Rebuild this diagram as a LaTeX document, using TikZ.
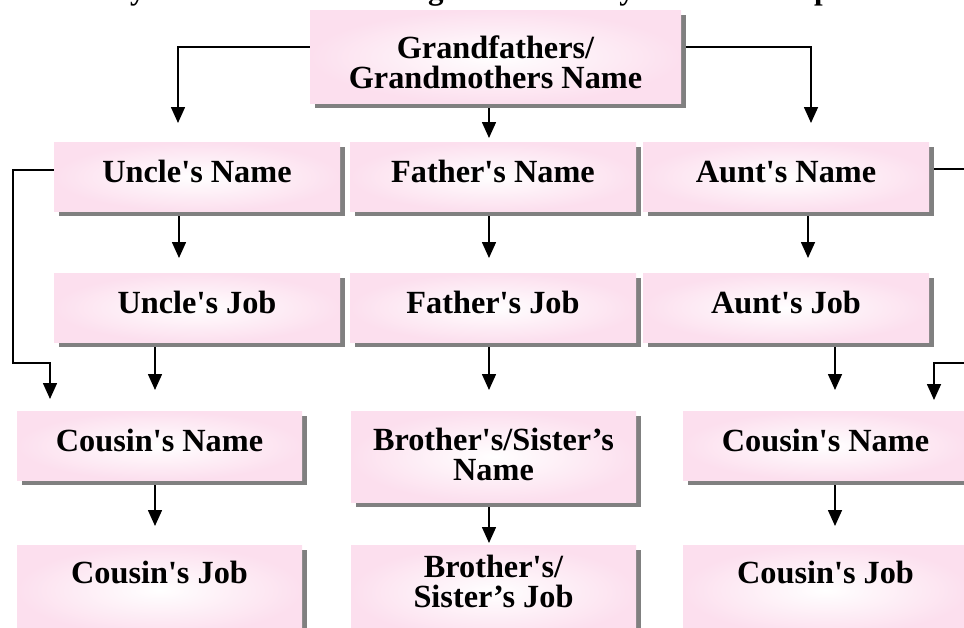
\documentclass[tikz,border=0pt]{standalone}
\usepackage{fontspec}
\setmainfont{Liberation Serif}[Ligatures=TeXOff]
\usetikzlibrary{arrows.meta,shadows,backgrounds}
\definecolor{pinkbox}{RGB}{252,223,238}
\definecolor{shadowgray}{RGB}{128,128,128}
\begin{document}
\begin{tikzpicture}[x=1pt,y=-1pt,
  boxbase/.style={rectangle, anchor=north, inner xsep=0pt, inner ysep=0pt,
    minimum width=286pt, inner color=white, outer color=pinkbox,
    drop shadow={shadow xshift=5pt, shadow yshift=-5pt, fill=shadowgray, opacity=1},
    font=\bfseries\fontsize{32.3}{30}\selectfont},
  box1/.style={boxbase, text height=40pt, text depth=29pt},
  box2/.style={boxbase, align=center},
  arr/.style={line width=1.6pt, -{Triangle[width=14pt,length=16pt]}}
]
\useasboundingbox (0,0) rectangle (964,627);

\node[anchor=base west, inner sep=0pt, font=\bfseries\fontsize{31}{31}\selectfont] (instr) at (6,-1)
  {Listen to your teacher describing his/her family tree and complete the web.};

\node[box2, minimum width=371pt] (gp) at (495.5,10)
  {\rule{0pt}{48pt}Grandfathers/\\Grandmothers Name\rule[-15pt]{0pt}{15pt}};

\node[box1] (un) at (197,142) {Uncle's Name};
\node[box1] (fn) at (493,142) {Father's Name};
\node[box1] (an) at (786,142) {Aunt's Name};

\node[box1] (uj) at (197,273) {Uncle's Job};
\node[box1] (fj) at (493,273) {Father's Job};
\node[box1] (aj) at (786,273) {Aunt's Job};

\node[box1, minimum width=285pt] (cn1) at (159.5,411) {Cousin's Name};
\node[box2, minimum width=285pt] (bn) at (493.5,411)
  {\rule{0pt}{39pt}Brother's/Sister’s\\Name\rule[-22pt]{0pt}{22pt}};
\node[box1, minimum width=285pt] (cn2) at (825.5,411) {Cousin's Name};

\node[boxbase, minimum width=285pt, text height=38pt, text depth=52pt] (cj1) at (159.5,545) {Cousin's Job};
\node[box2, minimum width=285pt] (bj) at (493.5,545)
  {\rule{0pt}{32pt}Brother's/\\Sister’s Job\rule[-32pt]{0pt}{32pt}};
\node[boxbase, minimum width=285pt, text height=38pt, text depth=52pt] (cj2) at (825.5,545) {Cousin's Job};

\coordinate (k1) at (178,47);
\coordinate (k2) at (811,47);
\coordinate (xm) at (489,0);
\coordinate (xu) at (179,0);
\coordinate (xa) at (808,0);
\coordinate (xl) at (155,0);
\coordinate (xr) at (835,0);
\coordinate (l1) at (13,170);
\coordinate (l2) at (13,363);
\coordinate (l3) at (50,363);
\coordinate (r1) at (975,169);
\coordinate (r2) at (975,363);
\coordinate (r3) at (934,363);

\begin{scope}[on background layer]
\draw[arr, shorten >=19pt] (gp.west |- k1) -- (k1) -- (un.north -| k1);
\draw[arr, shorten >=19pt] (gp.east |- k2) -- (k2) -- (an.north -| k2);
\draw[arr, shorten >=4pt] (gp.south -| xm) -- (fn.north -| xm);

\draw[arr, shorten >=15pt] (un.south -| xu) -- (uj.north -| xu);
\draw[arr, shorten >=15pt] (fn.south -| xm) -- (fj.north -| xm);
\draw[arr, shorten >=15pt] (an.south -| xa) -- (aj.north -| xa);

\draw[arr, shorten >=21pt] (uj.south -| xl) -- (cn1.north -| xl);
\draw[arr, shorten >=21pt] (fj.south -| xm) -- (bn.north -| xm);
\draw[arr, shorten >=21pt] (aj.south -| xr) -- (cn2.north -| xr);

\draw[arr, shorten >=19pt] (cn1.south -| xl) -- (cj1.north -| xl);
\draw[arr, shorten >=2pt] (bn.south -| xm) -- (bj.north -| xm);
\draw[arr, shorten >=19pt] (cn2.south -| xr) -- (cj2.north -| xr);

\draw[arr, shorten >=12pt] (un.west |- l1) -- (l1) -- (l2) -- (l3) -- (cn1.north -| l3);
\draw[arr, shorten >=11pt] (an.east |- r1) -- (r1) -- (r2) -- (r3) -- (cn2.north -| r3);
\end{scope}
\end{tikzpicture}
\end{document}
